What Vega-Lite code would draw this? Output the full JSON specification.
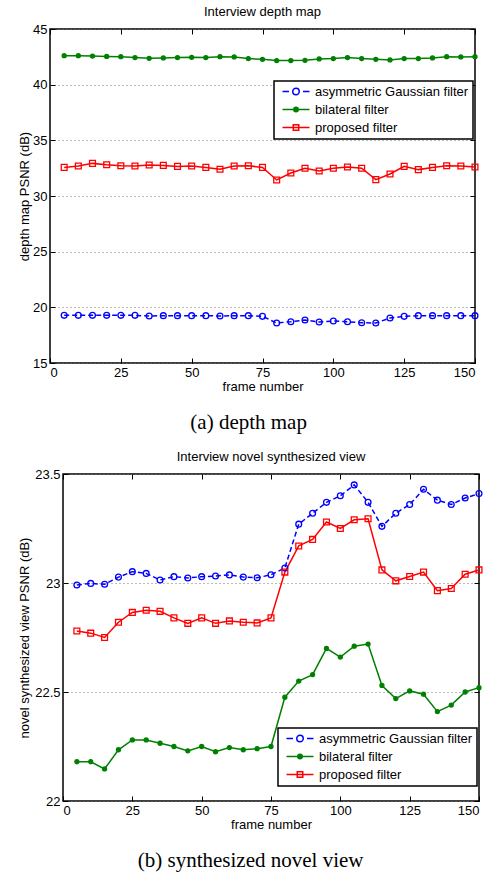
{
  "$schema": "https://vega.github.io/schema/vega-lite/v6.json",
  "padding": {"left": 16, "top": 5, "right": 5, "bottom": 5},
  "background": "white",
  "spacing": 17,
  "resolve": {"scale": {"stroke": "independent", "x": "independent", "y": "independent"}, "legend": {"stroke": "independent"}},
  "datasets": {
    "depth": [
      {"frame":5,"series":"asymmetric Gaussian filter","psnr":19.28},{"frame":10,"series":"asymmetric Gaussian filter","psnr":19.28},{"frame":15,"series":"asymmetric Gaussian filter","psnr":19.28},{"frame":20,"series":"asymmetric Gaussian filter","psnr":19.28},{"frame":25,"series":"asymmetric Gaussian filter","psnr":19.28},{"frame":30,"series":"asymmetric Gaussian filter","psnr":19.28},{"frame":35,"series":"asymmetric Gaussian filter","psnr":19.22},{"frame":40,"series":"asymmetric Gaussian filter","psnr":19.25},{"frame":45,"series":"asymmetric Gaussian filter","psnr":19.25},{"frame":50,"series":"asymmetric Gaussian filter","psnr":19.25},{"frame":55,"series":"asymmetric Gaussian filter","psnr":19.25},{"frame":60,"series":"asymmetric Gaussian filter","psnr":19.22},{"frame":65,"series":"asymmetric Gaussian filter","psnr":19.25},{"frame":70,"series":"asymmetric Gaussian filter","psnr":19.25},{"frame":75,"series":"asymmetric Gaussian filter","psnr":19.19},{"frame":80,"series":"asymmetric Gaussian filter","psnr":18.59},{"frame":85,"series":"asymmetric Gaussian filter","psnr":18.71},{"frame":90,"series":"asymmetric Gaussian filter","psnr":18.86},{"frame":95,"series":"asymmetric Gaussian filter","psnr":18.68},{"frame":100,"series":"asymmetric Gaussian filter","psnr":18.77},{"frame":105,"series":"asymmetric Gaussian filter","psnr":18.71},{"frame":110,"series":"asymmetric Gaussian filter","psnr":18.62},{"frame":115,"series":"asymmetric Gaussian filter","psnr":18.59},{"frame":120,"series":"asymmetric Gaussian filter","psnr":19.04},{"frame":125,"series":"asymmetric Gaussian filter","psnr":19.19},{"frame":130,"series":"asymmetric Gaussian filter","psnr":19.25},{"frame":135,"series":"asymmetric Gaussian filter","psnr":19.25},{"frame":140,"series":"asymmetric Gaussian filter","psnr":19.25},{"frame":145,"series":"asymmetric Gaussian filter","psnr":19.25},{"frame":150,"series":"asymmetric Gaussian filter","psnr":19.25},
      {"frame":5,"series":"bilateral filter","psnr":42.6},{"frame":10,"series":"bilateral filter","psnr":42.6},{"frame":15,"series":"bilateral filter","psnr":42.57},{"frame":20,"series":"bilateral filter","psnr":42.54},{"frame":25,"series":"bilateral filter","psnr":42.51},{"frame":30,"series":"bilateral filter","psnr":42.43},{"frame":35,"series":"bilateral filter","psnr":42.37},{"frame":40,"series":"bilateral filter","psnr":42.4},{"frame":45,"series":"bilateral filter","psnr":42.43},{"frame":50,"series":"bilateral filter","psnr":42.46},{"frame":55,"series":"bilateral filter","psnr":42.43},{"frame":60,"series":"bilateral filter","psnr":42.51},{"frame":65,"series":"bilateral filter","psnr":42.49},{"frame":70,"series":"bilateral filter","psnr":42.34},{"frame":75,"series":"bilateral filter","psnr":42.28},{"frame":80,"series":"bilateral filter","psnr":42.16},{"frame":85,"series":"bilateral filter","psnr":42.16},{"frame":90,"series":"bilateral filter","psnr":42.19},{"frame":95,"series":"bilateral filter","psnr":42.31},{"frame":100,"series":"bilateral filter","psnr":42.34},{"frame":105,"series":"bilateral filter","psnr":42.43},{"frame":110,"series":"bilateral filter","psnr":42.34},{"frame":115,"series":"bilateral filter","psnr":42.28},{"frame":120,"series":"bilateral filter","psnr":42.22},{"frame":125,"series":"bilateral filter","psnr":42.34},{"frame":130,"series":"bilateral filter","psnr":42.34},{"frame":135,"series":"bilateral filter","psnr":42.4},{"frame":140,"series":"bilateral filter","psnr":42.51},{"frame":145,"series":"bilateral filter","psnr":42.49},{"frame":150,"series":"bilateral filter","psnr":42.51},
      {"frame":5,"series":"proposed filter","psnr":32.57},{"frame":10,"series":"proposed filter","psnr":32.69},{"frame":15,"series":"proposed filter","psnr":32.93},{"frame":20,"series":"proposed filter","psnr":32.81},{"frame":25,"series":"proposed filter","psnr":32.72},{"frame":30,"series":"proposed filter","psnr":32.69},{"frame":35,"series":"proposed filter","psnr":32.78},{"frame":40,"series":"proposed filter","psnr":32.75},{"frame":45,"series":"proposed filter","psnr":32.66},{"frame":50,"series":"proposed filter","psnr":32.69},{"frame":55,"series":"proposed filter","psnr":32.57},{"frame":60,"series":"proposed filter","psnr":32.4},{"frame":65,"series":"proposed filter","psnr":32.69},{"frame":70,"series":"proposed filter","psnr":32.72},{"frame":75,"series":"proposed filter","psnr":32.57},{"frame":80,"series":"proposed filter","psnr":31.44},{"frame":85,"series":"proposed filter","psnr":32.07},{"frame":90,"series":"proposed filter","psnr":32.49},{"frame":95,"series":"proposed filter","psnr":32.25},{"frame":100,"series":"proposed filter","psnr":32.49},{"frame":105,"series":"proposed filter","psnr":32.6},{"frame":110,"series":"proposed filter","psnr":32.49},{"frame":115,"series":"proposed filter","psnr":31.47},{"frame":120,"series":"proposed filter","psnr":31.98},{"frame":125,"series":"proposed filter","psnr":32.66},{"frame":130,"series":"proposed filter","psnr":32.37},{"frame":135,"series":"proposed filter","psnr":32.57},{"frame":140,"series":"proposed filter","psnr":32.72},{"frame":145,"series":"proposed filter","psnr":32.69},{"frame":150,"series":"proposed filter","psnr":32.6}
    ],
    "view": [
      {"frame":5,"series":"asymmetric Gaussian filter","psnr":22.991},{"frame":10,"series":"asymmetric Gaussian filter","psnr":22.998},{"frame":15,"series":"asymmetric Gaussian filter","psnr":22.994},{"frame":20,"series":"asymmetric Gaussian filter","psnr":23.027},{"frame":25,"series":"asymmetric Gaussian filter","psnr":23.052},{"frame":30,"series":"asymmetric Gaussian filter","psnr":23.044},{"frame":35,"series":"asymmetric Gaussian filter","psnr":23.014},{"frame":40,"series":"asymmetric Gaussian filter","psnr":23.029},{"frame":45,"series":"asymmetric Gaussian filter","psnr":23.023},{"frame":50,"series":"asymmetric Gaussian filter","psnr":23.029},{"frame":55,"series":"asymmetric Gaussian filter","psnr":23.032},{"frame":60,"series":"asymmetric Gaussian filter","psnr":23.037},{"frame":65,"series":"asymmetric Gaussian filter","psnr":23.027},{"frame":70,"series":"asymmetric Gaussian filter","psnr":23.024},{"frame":75,"series":"asymmetric Gaussian filter","psnr":23.038},{"frame":80,"series":"asymmetric Gaussian filter","psnr":23.069},{"frame":85,"series":"asymmetric Gaussian filter","psnr":23.27},{"frame":90,"series":"asymmetric Gaussian filter","psnr":23.32},{"frame":95,"series":"asymmetric Gaussian filter","psnr":23.37},{"frame":100,"series":"asymmetric Gaussian filter","psnr":23.4},{"frame":105,"series":"asymmetric Gaussian filter","psnr":23.45},{"frame":110,"series":"asymmetric Gaussian filter","psnr":23.37},{"frame":115,"series":"asymmetric Gaussian filter","psnr":23.26},{"frame":120,"series":"asymmetric Gaussian filter","psnr":23.32},{"frame":125,"series":"asymmetric Gaussian filter","psnr":23.36},{"frame":130,"series":"asymmetric Gaussian filter","psnr":23.43},{"frame":135,"series":"asymmetric Gaussian filter","psnr":23.38},{"frame":140,"series":"asymmetric Gaussian filter","psnr":23.36},{"frame":145,"series":"asymmetric Gaussian filter","psnr":23.39},{"frame":150,"series":"asymmetric Gaussian filter","psnr":23.41},
      {"frame":5,"series":"bilateral filter","psnr":22.18},{"frame":10,"series":"bilateral filter","psnr":22.18},{"frame":15,"series":"bilateral filter","psnr":22.147},{"frame":20,"series":"bilateral filter","psnr":22.235},{"frame":25,"series":"bilateral filter","psnr":22.28},{"frame":30,"series":"bilateral filter","psnr":22.28},{"frame":35,"series":"bilateral filter","psnr":22.265},{"frame":40,"series":"bilateral filter","psnr":22.25},{"frame":45,"series":"bilateral filter","psnr":22.23},{"frame":50,"series":"bilateral filter","psnr":22.25},{"frame":55,"series":"bilateral filter","psnr":22.226},{"frame":60,"series":"bilateral filter","psnr":22.245},{"frame":65,"series":"bilateral filter","psnr":22.235},{"frame":70,"series":"bilateral filter","psnr":22.24},{"frame":75,"series":"bilateral filter","psnr":22.25},{"frame":80,"series":"bilateral filter","psnr":22.476},{"frame":85,"series":"bilateral filter","psnr":22.55},{"frame":90,"series":"bilateral filter","psnr":22.58},{"frame":95,"series":"bilateral filter","psnr":22.7},{"frame":100,"series":"bilateral filter","psnr":22.66},{"frame":105,"series":"bilateral filter","psnr":22.71},{"frame":110,"series":"bilateral filter","psnr":22.72},{"frame":115,"series":"bilateral filter","psnr":22.53},{"frame":120,"series":"bilateral filter","psnr":22.47},{"frame":125,"series":"bilateral filter","psnr":22.505},{"frame":130,"series":"bilateral filter","psnr":22.49},{"frame":135,"series":"bilateral filter","psnr":22.41},{"frame":140,"series":"bilateral filter","psnr":22.44},{"frame":145,"series":"bilateral filter","psnr":22.5},{"frame":150,"series":"bilateral filter","psnr":22.52},
      {"frame":5,"series":"proposed filter","psnr":22.78},{"frame":10,"series":"proposed filter","psnr":22.77},{"frame":15,"series":"proposed filter","psnr":22.75},{"frame":20,"series":"proposed filter","psnr":22.82},{"frame":25,"series":"proposed filter","psnr":22.865},{"frame":30,"series":"proposed filter","psnr":22.875},{"frame":35,"series":"proposed filter","psnr":22.87},{"frame":40,"series":"proposed filter","psnr":22.84},{"frame":45,"series":"proposed filter","psnr":22.815},{"frame":50,"series":"proposed filter","psnr":22.84},{"frame":55,"series":"proposed filter","psnr":22.815},{"frame":60,"series":"proposed filter","psnr":22.826},{"frame":65,"series":"proposed filter","psnr":22.82},{"frame":70,"series":"proposed filter","psnr":22.817},{"frame":75,"series":"proposed filter","psnr":22.84},{"frame":80,"series":"proposed filter","psnr":23.05},{"frame":85,"series":"proposed filter","psnr":23.17},{"frame":90,"series":"proposed filter","psnr":23.2},{"frame":95,"series":"proposed filter","psnr":23.28},{"frame":100,"series":"proposed filter","psnr":23.25},{"frame":105,"series":"proposed filter","psnr":23.29},{"frame":110,"series":"proposed filter","psnr":23.295},{"frame":115,"series":"proposed filter","psnr":23.06},{"frame":120,"series":"proposed filter","psnr":23.01},{"frame":125,"series":"proposed filter","psnr":23.03},{"frame":130,"series":"proposed filter","psnr":23.05},{"frame":135,"series":"proposed filter","psnr":22.965},{"frame":140,"series":"proposed filter","psnr":22.975},{"frame":145,"series":"proposed filter","psnr":23.04},{"frame":150,"series":"proposed filter","psnr":23.06}
    ],
    "empty": []
  },
  "vconcat": [
    {
      "title": {"text": "(a) depth map", "orient": "bottom", "anchor": "middle", "frame": "bounds", "font": "Liberation Serif", "fontSize": 21, "fontWeight": "normal", "color": "black", "offset": 18},
      "spacing": 0,
      "hconcat": [
        {"width": 1, "height": 1, "data": {"name": "empty"}, "mark": {"type": "point", "opacity": 0}, "encoding": {}, "view": {"stroke": null}},
        {
          "width": 425,
          "height": 334,
          "title": {"text": "Interview depth map", "anchor": "middle", "frame": "group", "fontSize": 13, "fontWeight": "normal", "color": "black", "offset": 4},
          "data": {"name": "depth"},
          "layer": [
            {
              "layer": [
                {
                  "transform": [{"filter": "datum.series === 'asymmetric Gaussian filter'"}],
                  "mark": {"type": "line", "strokeWidth": 1.5, "strokeDash": [5, 3]},
                  "encoding": {
                    "x": {"field": "frame", "type": "quantitative", "scale": {"domain": [0, 150], "nice": false}, "axis": {"values": [0, 25, 50, 75, 100, 125, 150], "title": "frame number", "grid": false}},
                    "y": {"field": "psnr", "type": "quantitative", "scale": {"domain": [15, 45], "nice": false, "zero": false}, "axis": {"values": [15, 20, 25, 30, 35, 40, 45], "title": "depth map PSNR (dB)", "grid": true, "titlePadding": 1}},
                    "stroke": {"field": "series", "type": "nominal", "scale": {"domain": ["asymmetric Gaussian filter", "bilateral filter", "proposed filter"], "range": ["#0000ff", "#008000", "#ff0000"]},
                      "legend": {"orient": "none", "legendX": 258, "legendY": 52, "title": null, "symbolSize": 100, "labelOffset": 24,
                        "encode": {"symbols": {"update": {
                          "shape": [{"test": "datum.value === 'asymmetric Gaussian filter'", "value": "M-0.4,0H0.9M3.7,0H5M1.65,0A0.65,0.65 0 1,1 2.95,0A0.65,0.65 0 1,1 1.65,0Z"}, {"test": "datum.value === 'bilateral filter'", "value": "M-0.4,0H5M1.85,0A0.45,0.45 0 1,1 2.75,0A0.45,0.45 0 1,1 1.85,0Z"}, {"value": "M-0.4,0H5M1.75,-0.55H2.85V0.55H1.75Z"}],
                          "fill": [{"test": "datum.value === 'bilateral filter'", "value": "#008000"}, {"value": "transparent"}],
                          "size": {"value": 100},
                          "strokeWidth": {"value": 1.5},
                          "opacity": {"value": 1}
                        }}, "legend": {"update": {"strokeWidth": {"value": 1.5}}}}}}
                  }
                },
                {
                  "transform": [{"filter": "datum.series !== 'asymmetric Gaussian filter'"}],
                  "mark": {"type": "line", "strokeWidth": 1.5},
                  "encoding": {
                    "x": {"field": "frame", "type": "quantitative"},
                    "y": {"field": "psnr", "type": "quantitative"},
                    "stroke": {"field": "series", "type": "nominal"}
                  }
                },
                {
                  "transform": [{"filter": "datum.series !== 'proposed filter'"}],
                  "mark": {"type": "point", "shape": "circle", "filled": false, "strokeWidth": 1.3, "opacity": 1},
                  "encoding": {
                    "x": {"field": "frame", "type": "quantitative"},
                    "y": {"field": "psnr", "type": "quantitative"},
                    "stroke": {"field": "series", "type": "nominal"},
                    "fill": {"condition": {"test": "datum.series === 'bilateral filter'", "value": "#008000"}, "value": "transparent"},
                    "size": {"condition": {"test": "datum.series === 'bilateral filter'", "value": 16}, "value": 34}
                  }
                },
                {
                  "transform": [{"filter": "datum.series === 'proposed filter'"}],
                  "mark": {"type": "point", "shape": "square", "filled": false, "strokeWidth": 1.3, "opacity": 1, "size": 34},
                  "encoding": {
                    "x": {"field": "frame", "type": "quantitative"},
                    "y": {"field": "psnr", "type": "quantitative"},
                    "stroke": {"field": "series", "type": "nominal"}
                  }
                }
              ]
            },
            {
              "mark": {"type": "point", "opacity": 0},
              "encoding": {
                "x": {"field": "frame", "type": "quantitative", "scale": {"domain": [0, 150], "nice": false}, "axis": {"orient": "top", "values": [0, 25, 50, 75, 100, 125, 150], "labels": false, "title": null, "grid": false}},
                "y": {"field": "psnr", "type": "quantitative", "scale": {"domain": [15, 45], "nice": false, "zero": false}, "axis": {"orient": "right", "values": [15, 20, 25, 30, 35, 40, 45], "labels": false, "title": null, "grid": false}}
              }
            }
          ],
          "resolve": {"scale": {"x": "independent", "y": "independent"}}
        }
      ]
    },
    {
      "title": {"text": "(b) synthesized novel view", "orient": "bottom", "anchor": "middle", "frame": "bounds", "font": "Liberation Serif", "fontSize": 21, "fontWeight": "normal", "color": "black", "offset": 18},
      "spacing": 0,
      "hconcat": [
        {"width": 1, "height": 1, "data": {"name": "empty"}, "mark": {"type": "point", "opacity": 0}, "encoding": {}, "view": {"stroke": null}},
        {
          "width": 416,
          "height": 327,
          "title": {"text": "Interview novel synthesized view", "anchor": "middle", "frame": "group", "fontSize": 13, "fontWeight": "normal", "color": "black", "offset": 4},
          "data": {"name": "view"},
          "layer": [
            {
              "layer": [
                {
                  "transform": [{"filter": "datum.series === 'asymmetric Gaussian filter'"}],
                  "mark": {"type": "line", "strokeWidth": 1.5, "strokeDash": [5, 3]},
                  "encoding": {
                    "x": {"field": "frame", "type": "quantitative", "scale": {"domain": [0, 150], "nice": false}, "axis": {"values": [0, 25, 50, 75, 100, 125, 150], "title": "frame number", "grid": false}},
                    "y": {"field": "psnr", "type": "quantitative", "scale": {"domain": [22, 23.5], "nice": false, "zero": false}, "axis": {"values": [22, 22.5, 23, 23.5], "format": "~g", "title": "novel synthesized view PSNR (dB)", "grid": true, "titlePadding": 3}},
                    "stroke": {"field": "series", "type": "nominal", "scale": {"domain": ["asymmetric Gaussian filter", "bilateral filter", "proposed filter"], "range": ["#0000ff", "#008000", "#ff0000"]},
                      "legend": {"orient": "none", "legendX": 262, "legendY": 254, "title": null, "symbolSize": 100, "labelOffset": 24,
                        "encode": {"symbols": {"update": {
                          "shape": [{"test": "datum.value === 'asymmetric Gaussian filter'", "value": "M-0.4,0H0.9M3.7,0H5M1.65,0A0.65,0.65 0 1,1 2.95,0A0.65,0.65 0 1,1 1.65,0Z"}, {"test": "datum.value === 'bilateral filter'", "value": "M-0.4,0H5M1.85,0A0.45,0.45 0 1,1 2.75,0A0.45,0.45 0 1,1 1.85,0Z"}, {"value": "M-0.4,0H5M1.75,-0.55H2.85V0.55H1.75Z"}],
                          "fill": [{"test": "datum.value === 'bilateral filter'", "value": "#008000"}, {"value": "transparent"}],
                          "size": {"value": 100},
                          "strokeWidth": {"value": 1.5},
                          "opacity": {"value": 1}
                        }}, "legend": {"update": {"strokeWidth": {"value": 1.5}}}}}}
                  }
                },
                {
                  "transform": [{"filter": "datum.series !== 'asymmetric Gaussian filter'"}],
                  "mark": {"type": "line", "strokeWidth": 1.5},
                  "encoding": {
                    "x": {"field": "frame", "type": "quantitative"},
                    "y": {"field": "psnr", "type": "quantitative"},
                    "stroke": {"field": "series", "type": "nominal"}
                  }
                },
                {
                  "transform": [{"filter": "datum.series !== 'proposed filter'"}],
                  "mark": {"type": "point", "shape": "circle", "filled": false, "strokeWidth": 1.3, "opacity": 1},
                  "encoding": {
                    "x": {"field": "frame", "type": "quantitative"},
                    "y": {"field": "psnr", "type": "quantitative"},
                    "stroke": {"field": "series", "type": "nominal"},
                    "fill": {"condition": {"test": "datum.series === 'bilateral filter'", "value": "#008000"}, "value": "transparent"},
                    "size": {"condition": {"test": "datum.series === 'bilateral filter'", "value": 16}, "value": 34}
                  }
                },
                {
                  "transform": [{"filter": "datum.series === 'proposed filter'"}],
                  "mark": {"type": "point", "shape": "square", "filled": false, "strokeWidth": 1.3, "opacity": 1, "size": 34},
                  "encoding": {
                    "x": {"field": "frame", "type": "quantitative"},
                    "y": {"field": "psnr", "type": "quantitative"},
                    "stroke": {"field": "series", "type": "nominal"}
                  }
                }
              ]
            },
            {
              "mark": {"type": "point", "opacity": 0},
              "encoding": {
                "x": {"field": "frame", "type": "quantitative", "scale": {"domain": [0, 150], "nice": false}, "axis": {"orient": "top", "values": [0, 25, 50, 75, 100, 125, 150], "labels": false, "title": null, "grid": false}},
                "y": {"field": "psnr", "type": "quantitative", "scale": {"domain": [22, 23.5], "nice": false, "zero": false}, "axis": {"orient": "right", "values": [22, 22.5, 23, 23.5], "labels": false, "title": null, "grid": false}}
              }
            }
          ],
          "resolve": {"scale": {"x": "independent", "y": "independent"}}
        }
      ]
    }
  ],
  "config": {
    "font": "Liberation Sans",
    "view": {"stroke": "black", "strokeWidth": 1.5},
    "axis": {
      "domain": false,
      "tickColor": "black",
      "tickSize": -5,
      "tickWidth": 1,
      "labelPadding": 8,
      "labelFontSize": 13,
      "labelColor": "black",
      "titleFontSize": 13,
      "titleFontWeight": "normal",
      "titleColor": "black",
      "gridColor": "#777777",
      "gridDash": [1, 3],
      "gridWidth": 1,
      "gridOpacity": 1
    },
    "axisX": {"titlePadding": 1},
    "legend": {
      "strokeColor": "black",
      "fillColor": "white",
      "padding": 4,
      "labelFontSize": 13,
      "labelColor": "black",
      "rowPadding": 4
    }
  }
}
